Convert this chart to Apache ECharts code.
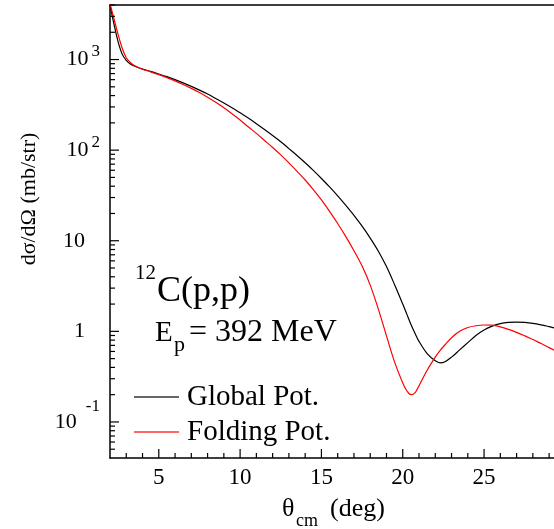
<!DOCTYPE html>
<html>
<head>
<meta charset="utf-8">
<script src="https://cdn.jsdelivr.net/npm/echarts@6/dist/echarts.min.js"></script>
<style>
  html, body { margin: 0; padding: 0; background: #fff; }
  #chart { width: 554px; height: 529px; }
</style>
</head>
<body>
<div id="chart"></div>
<script>
// scattering angle (deg)
var theta = [2.0, 2.25, 2.5, 2.75, 3.0, 3.25, 3.5, 3.75, 4.0, 4.5, 5.0, 5.5, 6.0, 6.5, 7.0, 7.5, 8.0, 8.5, 9.0, 9.5,
  10.0, 10.5, 11.0, 11.5, 12.0, 12.5, 13.0, 13.5, 14.0, 14.5, 15.0, 15.5, 16.0, 16.5, 17.0, 17.5,
  18.0, 18.5, 19.0, 19.5, 20.0, 20.25, 20.5, 20.75, 21.0, 21.5, 22.0, 22.3, 22.6, 23.0, 23.5, 24.0,
  24.5, 25.0, 25.5, 26.0, 26.5, 27.0, 27.5, 28.0, 28.5, 29.0, 29.3];
// global potential (black), mb/str
var globalPot = [3981, 2427, 1567, 1148, 977, 895, 847, 813, 785, 740, 693, 647, 600, 553, 506, 460, 416, 372, 332, 294,
  258, 226, 196, 169, 145, 124, 104, 87.4, 72.6, 59.8, 48.7, 39.3, 31.3, 24.6, 19.1, 14.5,
  10.7, 7.67, 5.19, 3.27, 2.00, 1.55, 1.20, 0.955, 0.776, 0.569, 0.473, 0.449, 0.462, 0.519, 0.624, 0.750,
  0.902, 1.035, 1.143, 1.219, 1.256, 1.265, 1.253, 1.225, 1.180, 1.127, 1.094];
// folding potential (red), mb/str
var foldingPot = [4169, 2786, 1884, 1334, 1047, 929, 861, 817, 782, 732, 682, 632, 582, 531, 481, 432, 384, 337, 293, 252,
  215, 181, 153, 128, 107, 88.6, 72.5, 58.4, 46.8, 36.7, 28.2, 21.1, 15.5, 11.1, 7.76, 5.25,
  3.24, 1.76, 0.891, 0.457, 0.269, 0.221, 0.200, 0.209, 0.251, 0.372, 0.519, 0.617, 0.711, 0.851, 1.0, 1.102,
  1.153, 1.175, 1.169, 1.122, 1.052, 0.973, 0.891, 0.813, 0.733, 0.661, 0.618];

var xMajorTicks = [5, 10, 15, 20, 25];
var xMinorTicks = [3, 4, 6, 7, 8, 9, 11, 12, 13, 14, 16, 17, 18, 19, 21, 22, 23, 24, 26, 27, 28, 29];
var yMajorTicks = [0.1, 1, 10, 100, 1000];
var yMinorTicks = [0.05, 0.06, 0.07, 0.08, 0.09, 0.2, 0.3, 0.4, 0.5, 0.6, 0.7, 0.8, 0.9,
  2, 3, 4, 5, 6, 7, 8, 9, 20, 30, 40, 50, 60, 70, 80, 90,
  200, 300, 400, 500, 600, 700, 800, 900, 2000, 3000, 4000];

var xMin = 2, xMax = 29.3, yMin = 0.04, yMax = 4000;
var font = '"Liberation Serif", "Times New Roman", serif';

var myChart = echarts.init(document.getElementById('chart'));

function pairs(xs, ys) {
  var out = [];
  for (var i = 0; i < xs.length; i++) {
    out.push([xs[i], ys[i]]);
  }
  return out;
}

// tick marks: [x, y, length, horizontal?]
var tickData = [];
xMajorTicks.forEach(function (v) { tickData.push([v, yMin, 9, 0]); });
xMinorTicks.forEach(function (v) { tickData.push([v, yMin, 5, 0]); });
yMajorTicks.forEach(function (v) { tickData.push([xMin, v, 9, 1]); });
yMinorTicks.forEach(function (v) { tickData.push([xMin, v, 5, 1]); });

function renderTick(params, api) {
  var p = api.coord([api.value(0), api.value(1)]);
  var len = api.value(2);
  var horiz = api.value(3);
  return {
    type: 'line',
    shape: { x1: p[0], y1: p[1], x2: horiz ? p[0] + len : p[0], y2: horiz ? p[1] : p[1] - len },
    style: { stroke: '#000', lineWidth: 1.2 }
  };
}

function yLabel(v) {
  var lg = Math.log10(v);
  var e = Math.round(lg);
  if (Math.abs(lg - e) > 0.01) return '';
  if (e === 0) return '{p|1}';
  if (e === 1) return '{p|10}';
  if (e < 0) return '{b|10}{m|' + e + '}';
  return '{b|10}{s|' + e + '}';
}

myChart.setOption({
  animation: false,
  backgroundColor: '#fff',
  grid: { left: 110, right: 0, top: 5, bottom: 71, containLabel: false },
  xAxis: [{
    type: 'value',
    min: xMin,
    max: xMax,
    axisLine: { lineStyle: { color: '#000', width: 1.5 } },
    axisTick: { show: false },
    splitLine: { show: false },
    axisLabel: {
      margin: 8,
      color: '#000',
      fontSize: 23,
      fontFamily: font,
      showMinLabel: false,
      showMaxLabel: false,
      formatter: function (v) { return v % 5 === 0 ? String(v) : ''; }
    }
  }, {
    type: 'value',
    position: 'top',
    min: xMin,
    max: xMax,
    axisLine: { show: true, lineStyle: { color: '#000', width: 1.5 } },
    axisTick: { show: false },
    axisLabel: { show: false },
    splitLine: { show: false }
  }],
  yAxis: {
    type: 'log',
    logBase: 10,
    min: yMin,
    max: yMax,
    axisLine: { show: true, lineStyle: { color: '#000', width: 1.5 } },
    axisTick: { show: false },
    splitLine: { show: false },
    axisLabel: {
      margin: 10,
      color: '#000',
      fontFamily: font,
      formatter: yLabel,
      rich: {
        p: { fontSize: 22, fontFamily: font, color: '#000', padding: [0, 15, 0, 0], verticalAlign: 'middle' },
        b: { fontSize: 22, fontFamily: font, color: '#000', verticalAlign: 'middle' },
        s: { fontSize: 17, fontFamily: font, color: '#000', lineHeight: 33, verticalAlign: 'top', padding: [0, 0, 0, 3] },
        m: { fontSize: 17, fontFamily: font, color: '#000', lineHeight: 47, verticalAlign: 'top', padding: [0, 0, 0, 9] }
      }
    }
  },
  legend: {
    data: [
      { name: 'Global Pot.', icon: 'rect', itemStyle: { color: '#333' } },
      { name: 'Folding Pot.', icon: 'rect', itemStyle: { color: '#ff3333' } }
    ],
    orient: 'vertical',
    left: 129,
    top: 377,
    itemWidth: 45,
    itemHeight: 1.3,
    itemGap: 5,
    textStyle: { fontSize: 29, fontFamily: font, color: '#000', lineHeight: 30, padding: [0, 0, 0, 3] }
  },
  series: [{
    name: 'Global Pot.',
    type: 'line',
    data: pairs(theta, globalPot),
    symbol: 'none',
    smooth: 0.35,
    lineStyle: { color: '#000', width: 1.2 },
    itemStyle: { color: '#000' }
  }, {
    name: 'Folding Pot.',
    type: 'line',
    data: pairs(theta, foldingPot),
    symbol: 'none',
    smooth: 0.35,
    lineStyle: { color: '#ff0000', width: 1.2 },
    itemStyle: { color: '#ff0000' }
  }, {
    name: 'ticks',
    type: 'custom',
    data: tickData,
    renderItem: renderTick,
    encode: { x: 0, y: 1 },
    silent: true,
    clip: false,
    z: 5
  }],
  graphic: [
    { type: 'text', x: 29, y: 199, rotation: Math.PI / 2,
      style: { text: 'dσ/dΩ (mb/str)', font: '22px ' + font, fill: '#000', align: 'center', verticalAlign: 'middle' } },
    { type: 'text', x: 282, y: 509,
      style: { text: 'θ', font: '26px ' + font, fill: '#000', align: 'left', verticalAlign: 'middle' } },
    { type: 'text', x: 296, y: 521,
      style: { text: 'cm', font: '18px ' + font, fill: '#000', align: 'left', verticalAlign: 'middle' } },
    { type: 'text', x: 330, y: 509,
      style: { text: '(deg)', font: '26px ' + font, fill: '#000', align: 'left', verticalAlign: 'middle' } },
    { type: 'text', x: 135, y: 273,
      style: { text: '12', font: '21px ' + font, fill: '#000', align: 'left', verticalAlign: 'middle' } },
    { type: 'text', x: 157, y: 292,
      style: { text: 'C(p,p)', font: '36px ' + font, fill: '#000', align: 'left', verticalAlign: 'middle' } },
    { type: 'text', x: 155, y: 333,
      style: { text: 'E', font: '29px ' + font, fill: '#000', align: 'left', verticalAlign: 'middle' } },
    { type: 'text', x: 174, y: 345,
      style: { text: 'p', font: '22px ' + font, fill: '#000', align: 'left', verticalAlign: 'middle' } },
    { type: 'text', x: 189, y: 333,
      style: { text: '= 392 MeV', font: '32px ' + font, fill: '#000', align: 'left', verticalAlign: 'middle' } }
  ]
});

window.onresize = function () {
  myChart.resize();
};
</script>
</body>
</html>
